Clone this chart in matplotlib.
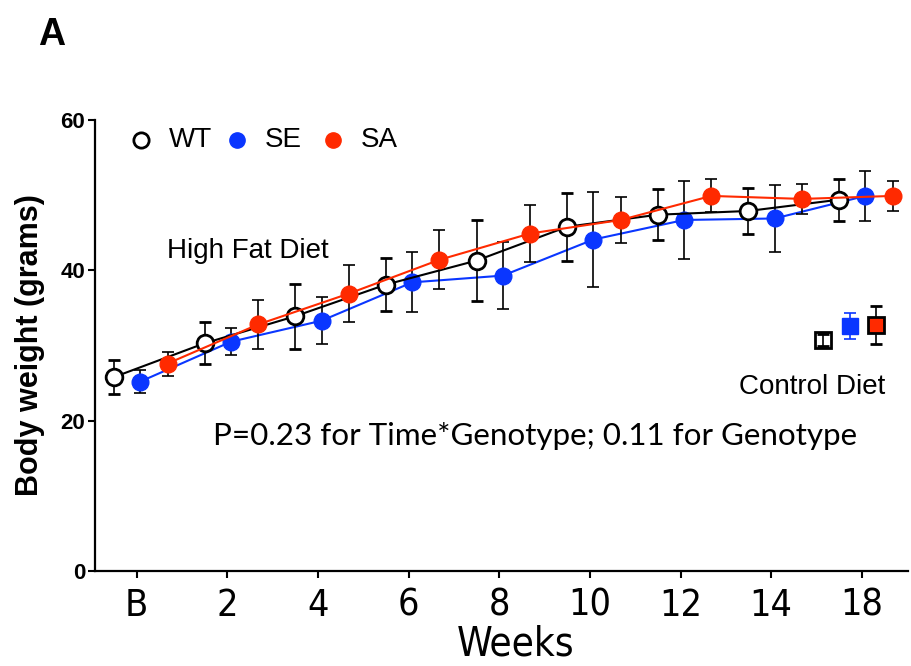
import matplotlib
matplotlib.use("Agg")
import matplotlib.pyplot as plt
import numpy as np

# ---- data ----
week_labels = ['B', '2', '4', '6', '8', '10', '12', '14', '18']
wt_mean = [25.8, 30.3, 33.9, 38.1, 41.3, 45.8, 47.4, 47.9, 49.4]
wt_sd = [2.3, 2.8, 4.3, 3.5, 5.4, 4.5, 3.4, 3.1, 2.8]
se_mean = [25.2, 30.5, 33.3, 38.4, 39.3, 44.1, 46.7, 46.9, 49.9]
se_sd = [1.5, 1.8, 3.1, 4.0, 4.5, 6.3, 5.2, 4.5, 3.3]
sa_mean = [27.6, 32.8, 36.9, 41.4, 44.9, 46.7, 49.9, 49.5, 49.9]
sa_sd = [1.6, 3.2, 3.8, 3.9, 3.8, 3.1, 2.2, 2.0, 2.0]
ctrl_groups = ['WT', 'SE', 'SA']
ctrl_mean = [30.7, 32.6, 32.7]
ctrl_sd = [0.8, 1.7, 2.5]

# ---- style ----
BLUE = '#0a36ff'
RED = '#ff2a00'
SANS = ['Liberation Sans', 'DejaVu Sans']
plt.rcParams['font.family'] = SANS

fig = plt.figure(figsize=(9.11, 6.66), dpi=100)
ax = fig.add_axes([95/911, 1-571/666, 813/911, 451/666])

idx = np.arange(len(week_labels))
off = {'WT': -0.25, 'SE': 0.04, 'SA': 0.34}
ms = 12
lw = 1.5
eb = dict(ecolor='black', elinewidth=1.2, capsize=4.5, capthick=1.2)

ax.errorbar(idx + off['SE'], se_mean, yerr=se_sd, color=BLUE, lw=lw, marker='o',
            ms=ms, mfc=BLUE, mec=BLUE, zorder=3, **eb)
ax.errorbar(idx + off['WT'], wt_mean, yerr=wt_sd, color='black', lw=lw, marker='o',
            ms=ms, mfc='white', mec='black', mew=2, zorder=4, **eb)
ax.errorbar(idx + off['SA'], sa_mean, yerr=sa_sd, color=RED, lw=lw, marker='o',
            ms=ms, mfc=RED, mec=RED, zorder=5, **eb)

# control diet
cx = 7.57
ax.errorbar([cx], [ctrl_mean[0]], yerr=[ctrl_sd[0]], fmt='s', ms=11, mfc='none',
            mec='black', mew=2, ecolor='black', elinewidth=1.2, capsize=4, zorder=4)
ax.errorbar([cx + 0.30], [ctrl_mean[1]], yerr=[ctrl_sd[1]], fmt='s', ms=11, mfc=BLUE,
            mec=BLUE, ecolor=BLUE, elinewidth=1.2, capsize=4.5, capthick=1.2, zorder=4)
ax.errorbar([cx + 0.59], [ctrl_mean[2]], yerr=[ctrl_sd[2]], fmt='s', ms=11, mfc=RED,
            mec='black', mew=2, ecolor='black', elinewidth=1.2, capsize=4.5, capthick=1.2, zorder=4)

ax.set_xlim(-0.46, 8.51)
ax.set_ylim(0, 60)
ax.set_xticks(idx)
ax.set_xticklabels(week_labels, family=['DejaVu Sans'], fontstretch='condensed', fontsize=27)
ax.set_yticks([0, 20, 40, 60])
ax.set_yticklabels(['0', '20', '40', '60'], fontsize=16, fontweight='bold')
for s in ['top', 'right']:
    ax.spines[s].set_visible(False)
for s in ['left', 'bottom']:
    ax.spines[s].set_linewidth(1.6)
ax.tick_params(axis='both', direction='out', length=5, width=1.5)
ax.tick_params(axis='x', pad=7)
ax.tick_params(axis='y', pad=2)

# legend (manual)
ly = 57.3
ax.plot([0.05], [ly], 'o', ms=11, mfc='white', mec='black', mew=2, clip_on=False)
ax.text(0.354, ly, 'WT', fontsize=20, va='center', ha='left')
ax.plot([1.11], [ly], 'o', ms=11, mfc=BLUE, mec=BLUE, clip_on=False)
ax.text(1.41, ly, 'SE', fontsize=20, va='center', ha='left')
ax.plot([2.17], [ly], 'o', ms=11, mfc=RED, mec=RED, clip_on=False)
ax.text(2.47, ly, 'SA', fontsize=20, va='center', ha='left')

ax.text(0.33, 41.6, 'High Fat Diet', fontsize=20, ha='left', va='baseline')
ax.text(6.64, 23.5, 'Control Diet', fontsize=20, ha='left', va='baseline')
ax.text(0.84, 16.8, 'P=0.23 for Time*Genotype; 0.11 for Genotype',
        family=['Lato', 'DejaVu Sans'], fontsize=22.6, ha='left', va='baseline')

fig.text(30/911, 1-345/666, 'Body weight (grams)', rotation=90, fontsize=22,
         fontweight='bold', ha='center', va='center')
fig.text(516/911, 1-656/666, 'Weeks', family=['DejaVu Sans'], fontstretch='condensed',
         fontsize=29, ha='center', va='baseline')
fig.text(38/911, 1-45/666, 'A', fontsize=27, fontweight='bold', ha='left', va='baseline')

fig.savefig('out.png', dpi=100)
